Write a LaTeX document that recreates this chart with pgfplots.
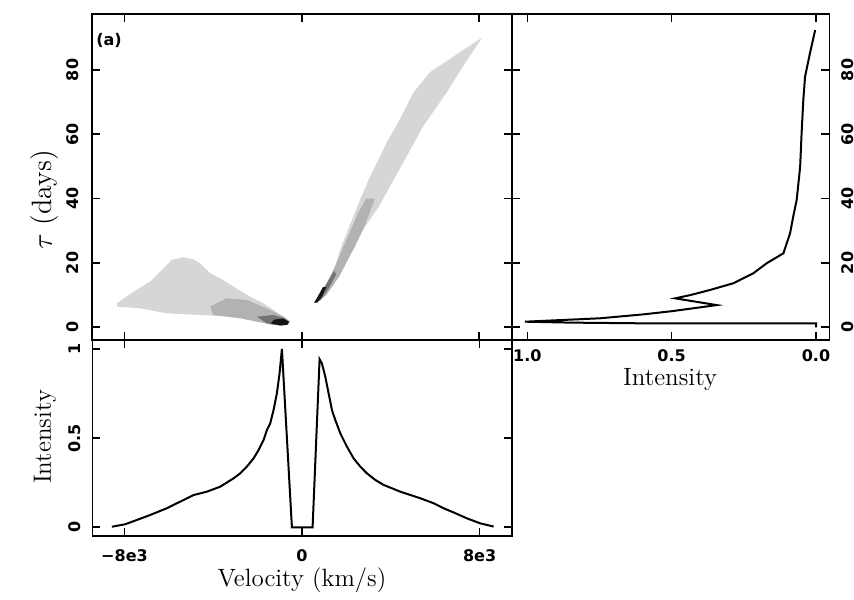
\documentclass[border=0pt]{standalone}
\usepackage{fontspec}
\setsansfont{DejaVu Sans}
\usepackage{pgfplots}
\pgfplotsset{compat=1.18}

\pgfplotsset{
  panel/.style={
    scale only axis, anchor=south west,
    axis line style={line width=0.8pt},
    every tick/.style={line width=0.8pt, black},
    tick align=inside, major tick length=4pt,
    tick label style={font=\sffamily\bfseries\fontsize{8}{9}\selectfont},
    /pgf/number format/assume math mode=true,
    xtick pos=both, ytick pos=both,
  },
  curve/.style={black, line width=1pt, mark=none},
  halftone/.style={draw=none, fill=#1, forget plot},
}

\newcommand{\lab}{\fontsize{12.5}{14}\selectfont}

\begin{document}
\begin{tikzpicture}
\path[use as bounding box] (0,0) rectangle (427pt,299.5pt);

% ---- transfer function: delay vs line-of-sight velocity ----
\begin{axis}[panel,
  at={(46.15pt,129.5pt)}, width=209.7pt, height=162.85pt,
  xmin=-9450, xmax=9460, ymin=-3.95, ymax=97.3,
  xtick={-8000,0,8000}, xticklabels={,,},
  ytick={0,20,40,60,80},
  yticklabel style={rotate=90, anchor=south},
  yticklabel shift=3.2pt,
]
% blue-shifted wing
\addplot[halftone=black!16] coordinates {
  (-8344,7.45) (-7593,11.08) (-6842,14.19) (-6241,18.34) (-5866,20.93)
  (-5340,21.76) (-4889,21.13) (-4588,19.89) (-4137,16.78) (-3537,14.71)
  (-3086,12.63) (-2335,9.52) (-1734,7.45) (-1283,5.38) (-832,3.31)
  (-532,2.06) (-607,0.72) (-983,0.51) (-1884,1.75) (-3086,3.31)
  (-4588,3.82) (-6090,4.34) (-7292,5.90) (-8344,6.41)} --cycle;
\addplot[halftone=black!30] coordinates {
  (-4137,6.41) (-3386,9.00) (-2485,8.49) (-1583,5.90) (-832,3.31)
  (-607,1.23) (-1283,0.72) (-2785,2.79) (-3988,3.82)} --cycle;
\addplot[halftone=black!55] coordinates {
  (-2034,3.31) (-1283,3.82) (-757,2.79) (-562,1.44) (-907,0.51)
  (-1583,1.23)} --cycle;
\addplot[halftone=black!92] coordinates {
  (-1400,1.2) (-1250,2.4) (-850,2.7) (-580,1.8) (-650,0.8) (-1000,0.6)} --cycle;
% red-shifted wing
\addplot[halftone=black!16] coordinates {
  (520,7.5) (900,10.5) (1400,16.5) (1720,24) (2150,31.5) (2620,39.6)
  (3050,46.5) (3520,53) (3830,57.5) (4430,64.8) (5030,73) (5780,79.3)
  (7130,85.5) (8110,90) (8030,89) (7280,81.3) (6530,73) (5480,62.6)
  (4730,53.2) (3975,43.8) (3450,37.3) (2750,30.3) (2320,24) (1750,18.3)
  (1250,12.8) (820,8.5)} --cycle;
\addplot[halftone=black!30] coordinates {
  (560,8) (1000,12) (1500,19) (2000,27) (2500,35) (2900,40) (3300,40)
  (2800,31) (2300,24) (1700,16) (1100,10) (700,7.8)} --cycle;
\addplot[halftone=black!55] coordinates {
  (540,7.6) (800,10) (1150,14) (1450,17.5) (1550,16.5) (1200,12) (850,8.5)} --cycle;
\addplot[halftone=black!92] coordinates {
  (560,7.6) (750,10) (950,12.5) (1100,12.5) (900,9.5) (700,7.7)} --cycle;
\node[font=\sffamily\bfseries\fontsize{8}{9}\selectfont] at (rel axis cs:0.04,0.921) {(a)};
\end{axis}

% ---- velocity-integrated line profile ----
\begin{axis}[panel,
  at={(46.15pt,31.5pt)}, width=209.85pt, height=98pt,
  xmin=-9450, xmax=9460, ymin=-0.049, ymax=1.052,
  xtick={-8000,0,8000}, xticklabels={−8e3,0,8e3},
  xticklabel shift=3.3pt,
  ytick={0,0.5,1},
  yticklabel style={rotate=90, anchor=south},
  yticklabel shift=2.3pt,
]
\addplot[curve] coordinates {
  (-8569,0.003) (-7968,0.017) (-7442,0.041) (-6842,0.069) (-6090,0.107)
  (-5490,0.144) (-4889,0.181) (-4288,0.200) (-3687,0.228) (-3086,0.275)
  (-2785,0.303) (-2485,0.341) (-2184,0.387) (-1959,0.434) (-1734,0.490)
  (-1583,0.547) (-1433,0.584) (-1283,0.659) (-1133,0.753) (-1013,0.865)
  (-907,1.002) (-457,0) (475,0) (790,0.944) (895,0.921) (1046,0.846)
  (1196,0.753) (1346,0.659) (1496,0.603) (1722,0.528) (2022,0.453)
  (2323,0.387) (2623,0.341) (2924,0.303) (3299,0.266) (3675,0.238)
  (4426,0.200) (5327,0.163) (5928,0.135) (6379,0.107) (6980,0.075)
  (7431,0.050) (8031,0.022) (8632,0.004)};
\end{axis}

% ---- delay-resolved response (intensity vs delay) ----
\begin{axis}[panel,
  at={(255.85pt,129.5pt)}, width=158.8pt, height=162.85pt,
  x dir=reverse, xmin=-0.046, xmax=1.054, ymin=-3.95, ymax=97.3,
  xtick={0,0.5,1}, xticklabels={0.0,0.5,1.0},
  xticklabel shift=1.5pt,
  ytick={0,20,40,60,80},
  yticklabel pos=right,
  yticklabel style={rotate=90, anchor=north},
  yticklabel shift=2.4pt,
]
\addplot[curve] coordinates {
  (0,0) (0,1.2) (0.3,1.22) (0.61,1.24) (0.85,1.45) (1.008,1.74)
  (0.748,2.8) (0.6,4.0) (0.5,5.0) (0.344,6.9) (0.488,9.0) (0.436,10.0)
  (0.367,11.6) (0.286,13.7) (0.217,16.8) (0.171,19.9) (0.113,23.0)
  (0.090,29.2) (0.079,34.4) (0.067,39.6) (0.055,49.9) (0.050,60.3)
  (0.044,70.7) (0.038,77.9) (0.021,85.2) (0.003,92.4)};
\end{axis}

% axis titles
\node[font=\lab] at (151pt,9.5pt) {Velocity (km/s)};
\node[font=\lab] at (335pt,109.5pt) {Intensity};
\node[font=\lab, rotate=90] at (22.5pt,81pt) {Intensity};
\node[font=\fontsize{14}{16}\selectfont, rotate=90] at (22.5pt,199.5pt) {$\tau$ (days)};
\end{tikzpicture}
\end{document}
